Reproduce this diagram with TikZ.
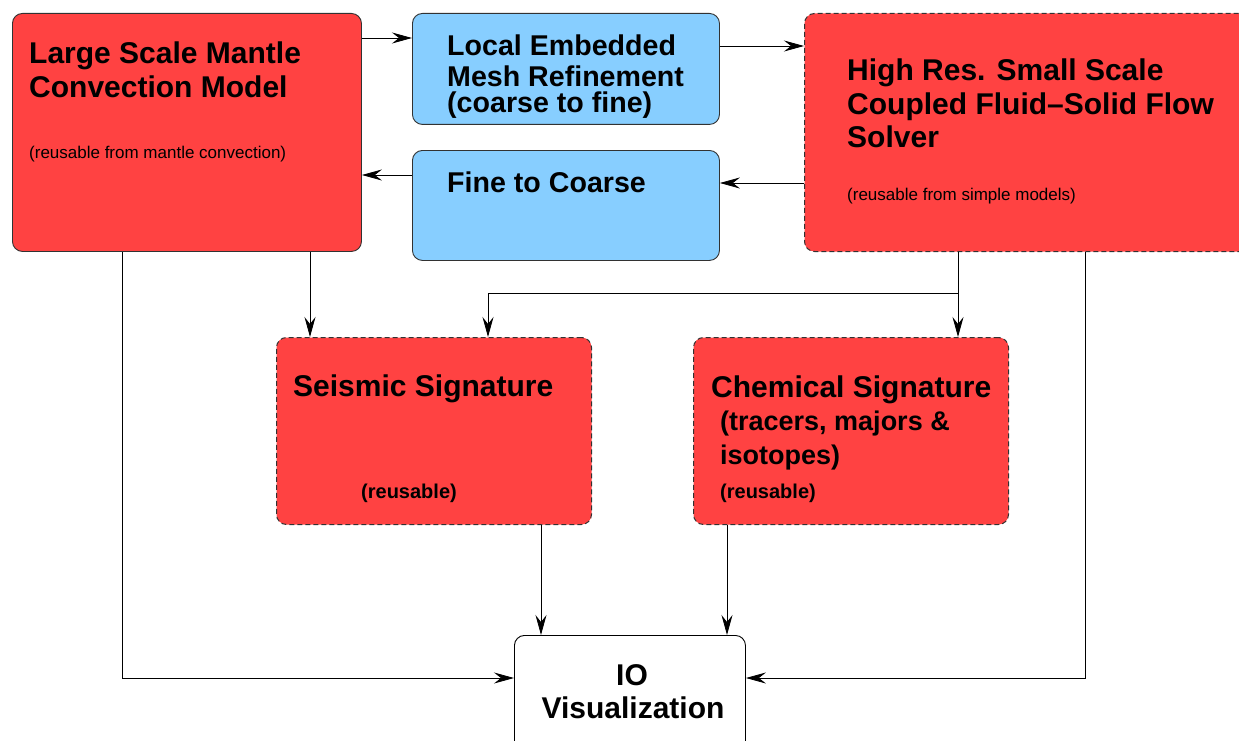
\documentclass[tikz,border=0pt]{standalone}
\usepackage{fontspec}
\setmainfont{Liberation Sans}
\usetikzlibrary{arrows.meta,positioning,calc}
\definecolor{boxred}{RGB}{255,66,66}
\definecolor{boxblue}{RGB}{135,206,255}
\definecolor{edgegray}{RGB}{50,50,50}

\begin{document}
\begin{tikzpicture}[x=1pt,y=-1pt,
    redbox/.style={draw=edgegray,fill=boxred,rounded corners=10pt,line width=0.9pt,
                   anchor=north west,inner sep=0pt},
    dashbox/.style={redbox,line width=1pt,dash pattern=on 5pt off 3pt},
    bluebox/.style={redbox,fill=boxblue},
    iobox/.style={redbox,draw=black,fill=white},
    head/.style={anchor=base west,inner sep=0pt,font=\bfseries\fontsize{30}{34}\selectfont},
    bluehead/.style={head,font=\bfseries\fontsize{28.6}{34}\selectfont},
    subhead/.style={head,font=\bfseries\fontsize{27}{34}\selectfont},
    tag/.style={head,font=\bfseries\fontsize{20}{24}\selectfont},
    note/.style={head,font=\fontsize{17}{20}\selectfont},
    arr/.style={-{Stealth[length=20pt,width=11pt,inset=7pt]},line width=0.8pt,black}
  ]
    \useasboundingbox (0,0) rectangle (1239,741);

    % boxes
    \node[redbox,minimum width=349pt,minimum height=238pt] (lsm) at (12,13) {};
    \node[bluebox,minimum width=307pt,minimum height=111pt] (lem) at (412,13) {};
    \node[bluebox,minimum width=307pt,minimum height=110pt] (ftc) at (412,150) {};
    \node[dashbox,minimum width=460pt,minimum height=238pt] (hrs) at (804,13) {};
    \node[dashbox,minimum width=315pt,minimum height=187pt] (seis) at (276,337) {};
    \node[dashbox,minimum width=315pt,minimum height=187pt] (chem) at (693,337) {};
    \node[iobox,minimum width=231pt,minimum height=130pt] (io) at (514,635) {};

    % texts
    \node[head] (lsm1) at (29,64) {Large Scale Mantle};
    \node[head] (lsm2) at (29,98) {Convection Model};
    \node[note] (lsm3) at (29,158) {(reusable from mantle convection)};

    \node[bluehead] (lem1) at (447,56) {Local Embedded};
    \node[bluehead] (lem2) at (447,87) {Mesh Refinement};
    \node[bluehead] (lem3) at (447,113) {(coarse to fine)};
    \node[bluehead] (ftc1) at (447,192) {Fine to Coarse};

    \node[head] (hrs1) at (847,81) {High Res. Small Scale};
    \node[head] (hrs2) at (847,114) {Coupled Fluid--Solid Flow};
    \node[head] (hrs3) at (847,147) {Solver};
    \node[note] (hrs4) at (847,200) {(reusable from simple models)};

    \node[head] (seis1) at (293,396) {Seismic Signature};
    \node[tag] (seis2) at (361,498) {(reusable)};

    \node[head] (chem1) at (711,397) {Chemical Signature};
    \node[subhead] (chem2) at (720,430) {(tracers, majors \&};
    \node[subhead] (chem3) at (720,464) {isotopes)};
    \node[tag] (chem4) at (720,498) {(reusable)};

    \node[head,anchor=base] (io1) at (632,685) {IO};
    \node[head,anchor=base] (io2) at (633,718) {Visualization};

    % connectors
    \draw[arr] (lsm.east |- 0,38) -- (lem.west |- 0,38);
    \draw[arr] (lem.east |- 0,46) -- (hrs.west |- 0,46);
    \draw[arr] (hrs.west |- 0,183) -- (ftc.east |- 0,183);
    \draw[arr] (ftc.west |- 0,175) -- (lsm.east |- 0,175);

    \draw[arr] (lsm.south -| 310,0) -- (seis.north -| 310,0);
    \draw[arr] (hrs.south -| 958,0) -- (chem.north -| 958,0);
    \coordinate (split) at (958,293);
    \draw[arr] (split) -- (488,293) -- (seis.north -| 488,0);

    \draw[arr] (lsm.south -| 122,0) |- (io.west |- 0,678);
    \draw[arr] (hrs.south -| 1085,0) |- (io.east |- 0,678);
    \draw[arr] (seis.south -| 541,0) -- (io.north -| 541,0);
    \draw[arr] (chem.south -| 727,0) -- (io.north -| 727,0);
  \end{tikzpicture}
\end{document}
